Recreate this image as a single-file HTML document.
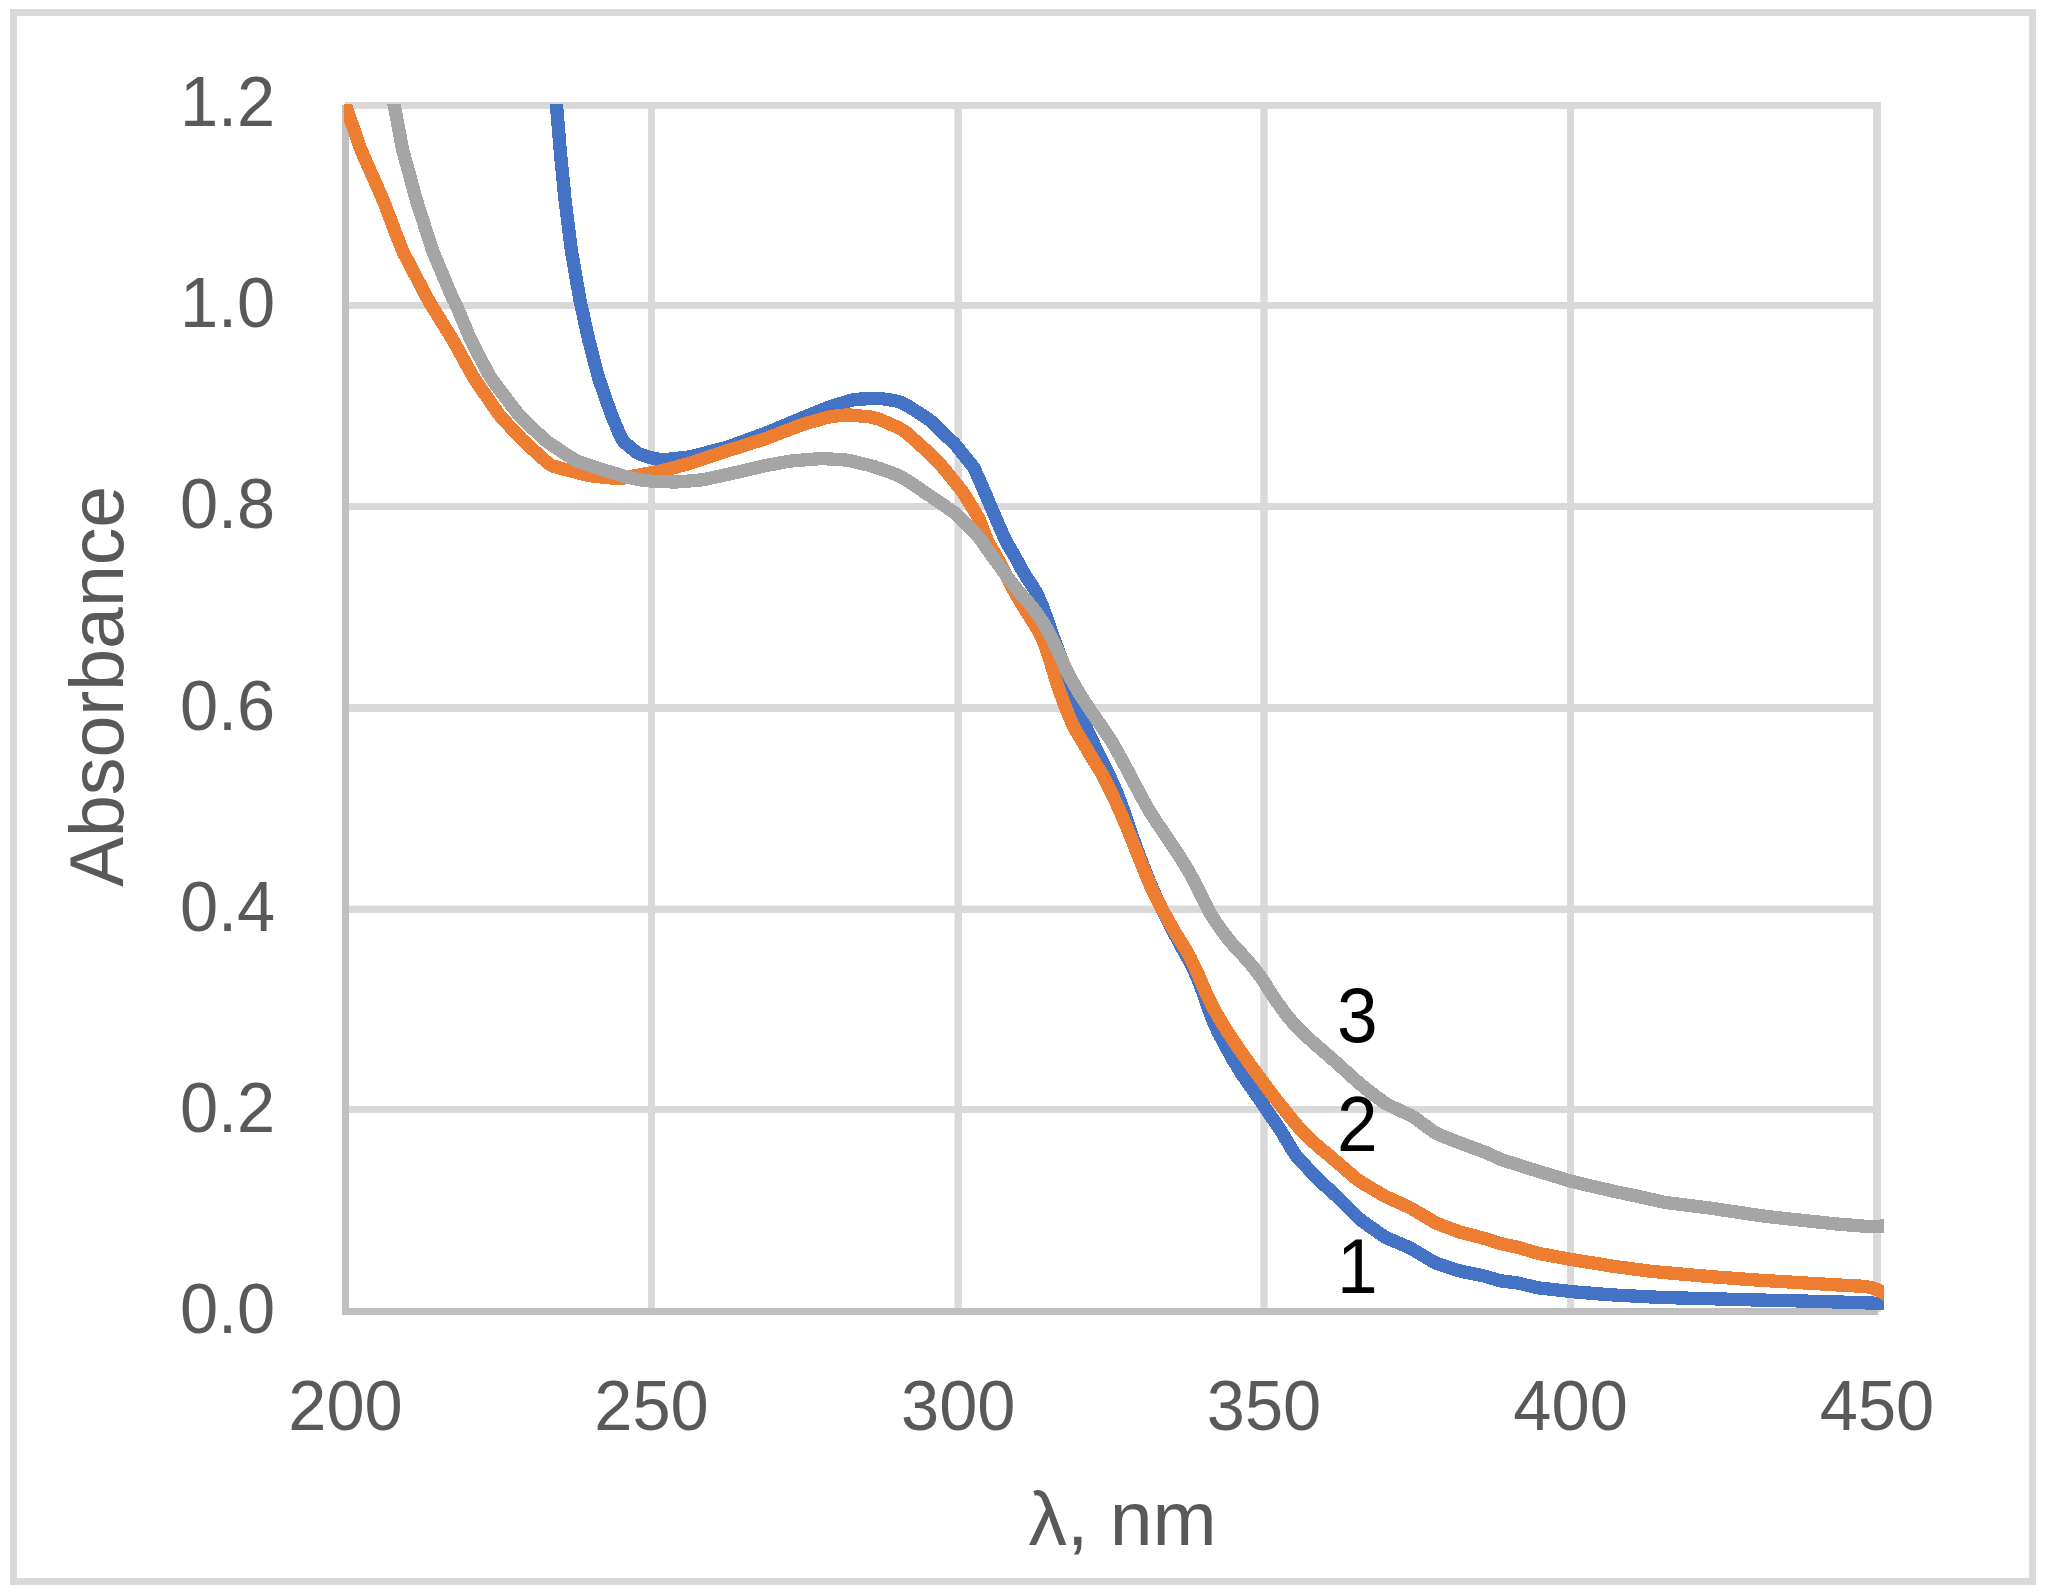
<!DOCTYPE html>
<html><head><meta charset="utf-8"><title>Absorbance spectra</title>
<style>
html,body{margin:0;padding:0;background:#fff;}
body{width:2046px;height:1594px;}
svg{display:block;}
text{font-family:"Liberation Sans",sans-serif;}
.ax{font-size:70.6px;fill:#595959;}
.tt{font-size:75.5px;fill:#595959;}
.dl{font-size:77.0px;fill:#000;}
</style></head><body>
<svg width="2046" height="1594" viewBox="0 0 2046 1594">
<rect x="0" y="0" width="2046" height="1594" fill="#fff"/>
<rect x="13.5" y="12.5" width="2019" height="1569" fill="none" stroke="#d9d9d9" stroke-width="7"/>
<g fill="#d9d9d9">
<rect x="345" y="102" width="1536" height="7"/>
<rect x="345" y="302" width="1536" height="7"/>
<rect x="345" y="503" width="1536" height="7"/>
<rect x="345" y="704" width="1536" height="8"/>
<rect x="345" y="905.5" width="1536" height="7.5"/>
<rect x="345" y="1106" width="1536" height="7"/>
<rect x="648" y="102" width="7.0" height="1210"/>
<rect x="954.5" y="102" width="7.5" height="1210"/>
<rect x="1260.3" y="102" width="7.4" height="1210"/>
<rect x="1567.1" y="102" width="6.9" height="1210"/>
<rect x="1873" y="102" width="8.0" height="1210"/>
</g>
<g fill="#bfbfbf"><rect x="342" y="105" width="7" height="1210"/><rect x="342" y="1308" width="1536" height="7"/></g>
<clipPath id="cp"><rect x="344" y="104" width="1540" height="1214"/></clipPath>
<g clip-path="url(#cp)" fill="none" stroke-width="13.3" stroke-linejoin="round" stroke-linecap="butt" shape-rendering="crispEdges">
<path d="M555.0,86.0 L555.2,89.0 L555.5,92.0 L555.7,95.0 L555.9,98.0 L556.2,101.0 L556.4,103.9 L556.6,106.9 L556.9,109.9 L557.1,112.9 L557.4,115.9 L557.6,118.9 L557.9,121.9 L558.1,124.9 L558.4,127.9 L558.6,130.9 L558.9,133.9 L559.1,136.8 L559.3,139.8 L559.6,142.8 L559.8,145.8 L560.1,148.8 L560.4,151.8 L560.6,154.8 L560.9,157.8 L561.2,160.8 L561.5,163.7 L561.8,166.7 L562.1,169.7 L562.4,172.7 L562.7,175.7 L563.0,178.7 L563.3,181.7 L563.6,184.6 L563.9,187.6 L564.1,190.6 L564.4,193.6 L564.7,196.6 L565.0,199.6 L565.4,202.6 L565.7,205.5 L566.1,208.5 L566.5,211.5 L566.9,214.5 L567.2,217.4 L567.6,220.4 L568.0,223.4 L568.4,226.4 L568.7,229.3 L569.1,232.3 L569.5,235.3 L569.9,238.3 L570.2,241.3 L570.6,244.2 L571.0,247.2 L571.4,250.2 L571.8,253.1 L572.4,256.1 L572.9,259.1 L573.4,262.0 L573.9,265.0 L574.4,267.9 L574.9,270.9 L575.4,273.8 L575.9,276.8 L576.4,279.8 L576.9,282.7 L577.5,285.7 L578.0,288.6 L578.5,291.6 L579.0,294.5 L579.5,297.5 L580.0,300.4 L580.7,303.4 L581.3,306.3 L582.0,309.2 L582.6,312.2 L583.3,315.1 L583.9,318.0 L584.5,321.0 L585.2,323.9 L585.8,326.8 L586.5,329.8 L587.1,332.7 L587.8,335.6 L588.4,338.5 L589.1,341.5 L589.9,344.4 L590.6,347.3 L591.4,350.2 L592.1,353.1 L592.9,356.0 L593.6,358.9 L594.4,361.8 L595.1,364.7 L595.9,367.6 L596.6,370.5 L597.4,373.4 L598.2,376.3 L599.0,379.2 L600.0,382.0 L601.0,384.9 L602.0,387.7 L603.0,390.5 L603.9,393.4 L604.9,396.2 L605.9,399.0 L606.9,401.8 L607.9,404.7 L608.9,407.5 L609.9,410.3 L610.9,413.2 L612.0,416.0 L613.1,418.8 L614.2,421.5 L615.4,424.3 L616.6,427.1 L617.7,429.8 L618.9,432.6 L620.1,435.3 L621.3,438.1 L622.9,440.5 L624.9,442.7 L627.1,444.6 L629.4,446.5 L631.8,448.5 L634.1,450.4 L636.4,452.2 L638.9,453.8 L641.6,454.9 L644.5,455.7 L647.4,456.6 L650.3,457.4 L653.2,458.2 L656.1,458.8 L659.1,459.2 L662.0,459.4 L665.0,459.5 L668.0,459.3 L671.0,459.0 L674.0,458.7 L677.0,458.4 L679.9,458.0 L682.9,457.7 L685.9,457.4 L688.9,457.0 L691.8,456.4 L694.7,455.7 L697.6,454.9 L700.5,454.2 L703.4,453.4 L706.3,452.7 L709.2,451.9 L712.1,451.1 L715.0,450.4 L717.9,449.6 L720.8,448.8 L723.7,448.1 L726.6,447.3 L729.5,446.4 L732.3,445.4 L735.1,444.3 L738.0,443.3 L740.8,442.3 L743.6,441.3 L746.4,440.2 L749.2,439.2 L752.1,438.2 L754.9,437.2 L757.7,436.1 L760.5,435.1 L763.3,434.1 L766.1,433.0 L768.9,431.9 L771.7,430.7 L774.5,429.6 L777.2,428.4 L780.0,427.2 L782.8,426.1 L785.5,424.9 L788.3,423.8 L791.1,422.6 L793.8,421.5 L796.6,420.3 L799.4,419.2 L802.1,418.0 L804.9,416.9 L807.7,415.7 L810.5,414.6 L813.3,413.5 L816.0,412.3 L818.8,411.2 L821.6,410.1 L824.4,409.0 L827.2,407.9 L830.0,406.9 L832.9,405.9 L835.7,405.0 L838.6,404.1 L841.4,403.2 L844.3,402.3 L847.2,401.4 L850.0,400.6 L852.9,399.8 L855.9,399.4 L858.9,399.2 L861.9,399.0 L864.9,398.9 L867.8,398.7 L870.8,398.6 L873.8,398.5 L876.8,398.5 L879.8,398.5 L882.8,398.8 L885.8,399.3 L888.7,399.7 L891.7,400.2 L894.7,400.7 L897.5,401.4 L900.4,402.4 L903.2,403.5 L905.9,404.8 L908.4,406.3 L911.0,407.9 L913.5,409.5 L916.0,411.2 L918.5,412.8 L921.0,414.4 L923.5,416.1 L926.1,417.7 L928.5,419.4 L930.9,421.2 L933.1,423.2 L935.3,425.3 L937.4,427.4 L939.6,429.5 L941.8,431.6 L943.9,433.6 L946.1,435.7 L948.2,437.8 L950.4,439.9 L952.6,442.0 L954.7,444.1 L956.7,446.3 L958.6,448.6 L960.5,451.0 L962.4,453.3 L964.2,455.6 L966.1,458.0 L968.0,460.3 L969.9,462.6 L971.8,465.0 L973.5,467.4 L975.0,470.0 L976.2,472.7 L977.4,475.5 L978.6,478.2 L979.8,481.0 L981.0,483.7 L982.2,486.5 L983.4,489.2 L984.6,492.0 L985.8,494.7 L987.0,497.5 L988.1,500.2 L989.3,503.0 L990.5,505.8 L991.7,508.5 L992.8,511.3 L994.0,514.1 L995.2,516.8 L996.4,519.6 L997.6,522.3 L998.8,525.1 L1000.0,527.8 L1001.2,530.6 L1002.4,533.3 L1003.6,536.0 L1004.9,538.8 L1006.2,541.5 L1007.6,544.1 L1009.1,546.7 L1010.6,549.3 L1012.2,551.8 L1013.7,554.4 L1015.2,557.0 L1016.6,559.6 L1018.0,562.3 L1019.4,564.9 L1020.8,567.5 L1022.3,570.1 L1023.8,572.7 L1025.3,575.2 L1026.9,577.7 L1028.5,580.1 L1030.1,582.6 L1031.7,585.0 L1033.3,587.5 L1034.8,590.0 L1036.2,592.6 L1037.5,595.2 L1038.8,597.9 L1040.1,600.6 L1041.2,603.3 L1042.4,606.1 L1043.5,608.9 L1044.5,611.7 L1045.5,614.5 L1046.5,617.3 L1047.5,620.1 L1048.5,623.0 L1049.5,625.8 L1050.4,628.7 L1051.4,631.5 L1052.4,634.3 L1053.4,637.2 L1054.4,640.0 L1055.5,642.8 L1056.5,645.6 L1057.6,648.4 L1058.6,651.2 L1059.7,654.0 L1060.7,656.8 L1061.8,659.6 L1062.8,662.5 L1063.9,665.3 L1064.9,668.1 L1065.9,670.9 L1066.9,673.7 L1068.0,676.6 L1069.0,679.4 L1070.0,682.2 L1071.0,685.0 L1072.0,687.8 L1073.0,690.7 L1074.0,693.5 L1075.1,696.3 L1076.1,699.1 L1077.1,702.0 L1078.1,704.8 L1079.0,707.6 L1080.0,710.5 L1081.0,713.3 L1082.0,716.1 L1083.0,719.0 L1084.0,721.8 L1085.0,724.6 L1086.1,727.3 L1087.2,730.0 L1088.4,732.7 L1089.6,735.4 L1090.9,738.1 L1092.2,740.7 L1093.5,743.3 L1094.8,746.0 L1096.1,748.6 L1097.4,751.3 L1098.7,754.0 L1100.0,756.7 L1101.3,759.3 L1102.7,762.0 L1104.0,764.7 L1105.3,767.3 L1106.7,770.0 L1108.0,772.7 L1109.2,775.4 L1110.5,778.1 L1111.7,780.8 L1113.0,783.6 L1114.2,786.3 L1115.3,789.1 L1116.5,791.8 L1117.6,794.6 L1118.7,797.4 L1119.8,800.2 L1120.8,803.0 L1121.9,805.8 L1122.9,808.6 L1123.9,811.5 L1124.9,814.3 L1125.9,817.1 L1126.9,820.0 L1127.9,822.8 L1128.8,825.6 L1129.8,828.5 L1130.7,831.3 L1131.7,834.2 L1132.6,837.0 L1133.6,839.9 L1134.6,842.7 L1135.6,845.5 L1136.6,848.3 L1137.7,851.1 L1138.7,854.0 L1139.8,856.8 L1140.8,859.6 L1141.9,862.4 L1143.0,865.2 L1144.1,868.0 L1145.2,870.8 L1146.3,873.5 L1147.4,876.3 L1148.5,879.1 L1149.7,881.9 L1150.8,884.7 L1152.0,887.4 L1153.1,890.2 L1154.3,892.9 L1155.5,895.7 L1156.8,898.4 L1158.0,901.2 L1159.3,903.9 L1160.6,906.6 L1161.9,909.3 L1163.2,911.9 L1164.6,914.6 L1165.9,917.2 L1167.3,919.9 L1168.7,922.5 L1170.1,925.2 L1171.5,927.8 L1172.8,930.5 L1174.2,933.2 L1175.6,935.8 L1177.0,938.5 L1178.4,941.1 L1179.9,943.7 L1181.3,946.4 L1182.7,949.0 L1184.2,951.6 L1185.6,954.2 L1187.1,956.9 L1188.5,959.5 L1189.9,962.2 L1191.2,964.8 L1192.6,967.5 L1193.9,970.2 L1195.1,972.9 L1196.3,975.7 L1197.5,978.4 L1198.6,981.2 L1199.7,984.0 L1200.8,986.8 L1201.8,989.6 L1202.9,992.4 L1203.9,995.2 L1204.9,998.1 L1205.8,1000.9 L1206.8,1003.7 L1207.8,1006.6 L1208.8,1009.4 L1209.8,1012.2 L1210.8,1015.0 L1211.9,1017.8 L1213.0,1020.6 L1214.2,1023.3 L1215.4,1026.1 L1216.6,1028.8 L1217.9,1031.5 L1219.3,1034.2 L1220.6,1036.8 L1222.0,1039.5 L1223.4,1042.2 L1224.8,1044.8 L1226.2,1047.5 L1227.7,1050.1 L1229.1,1052.7 L1230.6,1055.3 L1232.0,1058.0 L1233.5,1060.6 L1235.0,1063.1 L1236.6,1065.7 L1238.1,1068.3 L1239.7,1070.8 L1241.3,1073.3 L1243.0,1075.8 L1244.7,1078.3 L1246.4,1080.8 L1248.1,1083.2 L1249.8,1085.7 L1251.6,1088.1 L1253.3,1090.6 L1255.0,1093.0 L1256.8,1095.5 L1258.5,1097.9 L1260.2,1100.4 L1261.9,1102.9 L1263.6,1105.4 L1265.3,1107.8 L1267.0,1110.3 L1268.7,1112.8 L1270.3,1115.3 L1272.0,1117.8 L1273.7,1120.2 L1275.4,1122.7 L1277.1,1125.2 L1278.8,1127.7 L1280.4,1130.2 L1282.0,1132.7 L1283.6,1135.3 L1285.1,1137.9 L1286.6,1140.5 L1288.2,1143.0 L1289.7,1145.6 L1291.2,1148.2 L1292.8,1150.8 L1294.4,1153.3 L1296.1,1155.7 L1298.1,1158.0 L1300.1,1160.2 L1302.2,1162.4 L1304.2,1164.6 L1306.3,1166.7 L1308.3,1168.9 L1310.4,1171.1 L1312.4,1173.3 L1314.4,1175.5 L1316.5,1177.7 L1318.6,1179.9 L1320.7,1182.0 L1323.0,1183.9 L1325.2,1185.9 L1327.5,1187.9 L1329.7,1189.9 L1332.0,1191.9 L1334.2,1193.9 L1336.4,1195.9 L1338.5,1198.0 L1340.7,1200.2 L1342.8,1202.3 L1344.9,1204.4 L1347.0,1206.5 L1349.1,1208.6 L1351.3,1210.8 L1353.4,1212.9 L1355.5,1215.0 L1357.6,1217.1 L1359.8,1219.2 L1362.1,1221.1 L1364.6,1222.8 L1367.0,1224.5 L1369.5,1226.2 L1372.0,1228.0 L1374.4,1229.7 L1376.9,1231.4 L1379.3,1233.1 L1381.8,1234.8 L1384.3,1236.5 L1386.9,1237.9 L1389.6,1239.2 L1392.4,1240.3 L1395.2,1241.5 L1397.9,1242.7 L1400.7,1243.9 L1403.4,1245.0 L1406.2,1246.2 L1408.9,1247.4 L1411.6,1248.8 L1414.2,1250.3 L1416.8,1251.8 L1419.4,1253.4 L1421.9,1254.9 L1424.5,1256.5 L1427.1,1258.0 L1429.6,1259.6 L1432.2,1261.1 L1434.8,1262.5 L1437.6,1263.7 L1440.4,1264.7 L1443.2,1265.6 L1446.1,1266.6 L1449.0,1267.5 L1451.8,1268.4 L1454.7,1269.3 L1457.5,1270.2 L1460.4,1271.1 L1463.3,1271.8 L1466.3,1272.4 L1469.2,1273.0 L1472.1,1273.6 L1475.1,1274.2 L1478.0,1274.7 L1481.0,1275.3 L1483.9,1276.0 L1486.8,1276.7 L1489.7,1277.6 L1492.5,1278.5 L1495.4,1279.4 L1498.3,1280.3 L1501.2,1280.9 L1504.1,1281.3 L1507.1,1281.7 L1510.1,1282.0 L1513.1,1282.3 L1516.0,1282.7 L1519.0,1283.3 L1521.9,1284.0 L1524.8,1284.7 L1527.7,1285.4 L1530.6,1286.1 L1533.6,1286.8 L1536.5,1287.5 L1539.4,1288.0 L1542.4,1288.3 L1545.4,1288.7 L1548.4,1289.0 L1551.4,1289.4 L1554.3,1289.7 L1557.3,1290.0 L1560.3,1290.4 L1563.3,1290.7 L1566.3,1291.0 L1569.3,1291.4 L1572.2,1291.6 L1575.2,1291.9 L1578.2,1292.2 L1581.2,1292.4 L1584.2,1292.6 L1587.2,1292.9 L1590.2,1293.1 L1593.2,1293.4 L1596.2,1293.6 L1599.1,1293.9 L1602.1,1294.1 L1605.1,1294.4 L1608.1,1294.6 L1611.1,1294.8 L1614.1,1295.0 L1617.1,1295.2 L1620.1,1295.4 L1623.1,1295.5 L1626.1,1295.7 L1629.1,1295.8 L1632.1,1296.0 L1635.1,1296.1 L1638.1,1296.3 L1641.1,1296.4 L1644.1,1296.6 L1647.1,1296.7 L1650.1,1296.9 L1653.1,1297.0 L1656.1,1297.2 L1659.1,1297.3 L1662.1,1297.4 L1665.1,1297.5 L1668.1,1297.6 L1671.1,1297.7 L1674.0,1297.8 L1677.0,1297.9 L1680.0,1297.9 L1683.0,1298.0 L1686.0,1298.1 L1689.0,1298.2 L1692.0,1298.3 L1695.0,1298.3 L1698.0,1298.4 L1701.0,1298.5 L1704.0,1298.6 L1707.0,1298.7 L1710.0,1298.7 L1713.0,1298.8 L1716.0,1298.9 L1719.0,1299.0 L1722.0,1299.1 L1725.0,1299.1 L1728.0,1299.2 L1731.0,1299.3 L1734.0,1299.4 L1737.0,1299.5 L1740.0,1299.6 L1743.0,1299.6 L1746.0,1299.7 L1749.0,1299.8 L1752.0,1299.9 L1755.0,1300.0 L1758.0,1300.0 L1761.0,1300.1 L1764.0,1300.1 L1767.0,1300.2 L1770.0,1300.2 L1773.0,1300.3 L1776.0,1300.3 L1779.0,1300.4 L1782.0,1300.5 L1785.0,1300.6 L1788.0,1300.6 L1791.0,1300.7 L1794.0,1300.8 L1797.0,1300.9 L1800.0,1301.0 L1803.0,1301.0 L1806.0,1301.1 L1809.0,1301.2 L1812.0,1301.3 L1815.0,1301.4 L1818.0,1301.5 L1821.0,1301.5 L1824.0,1301.6 L1827.0,1301.7 L1830.0,1301.8 L1833.0,1301.9 L1836.0,1301.9 L1839.0,1302.0 L1842.0,1302.1 L1845.0,1302.2 L1848.0,1302.3 L1851.0,1302.4 L1854.0,1302.5 L1857.0,1302.6 L1860.0,1302.7 L1863.0,1302.8 L1866.0,1302.9 L1869.0,1303.0 L1872.0,1303.1 L1875.0,1303.2 L1878.0,1303.3 L1881.0,1303.5 L1884.0,1303.6 L1887.0,1303.7 L1890.0,1303.7 L1892.0,1303.8" stroke="#4472c4"/>
<path d="M337.0,86.0 L338.2,88.7 L339.5,91.5 L340.7,94.2 L341.9,97.0 L343.1,99.7 L344.3,102.4 L345.5,105.2 L346.5,108.0 L347.5,110.9 L348.5,113.7 L349.5,116.5 L350.4,119.4 L351.4,122.2 L352.4,125.0 L353.4,127.9 L354.4,130.7 L355.3,133.6 L356.3,136.4 L357.3,139.2 L358.3,142.1 L359.2,144.9 L360.2,147.7 L361.3,150.5 L362.5,153.3 L363.7,156.1 L364.9,158.8 L366.1,161.5 L367.3,164.3 L368.5,167.0 L369.8,169.8 L371.0,172.5 L372.2,175.3 L373.4,178.0 L374.6,180.8 L375.8,183.5 L377.0,186.2 L378.3,189.0 L379.5,191.7 L380.7,194.5 L381.9,197.2 L383.1,200.0 L384.2,202.8 L385.3,205.6 L386.3,208.4 L387.4,211.2 L388.5,214.0 L389.5,216.8 L390.6,219.6 L391.7,222.4 L392.7,225.2 L393.8,228.0 L394.9,230.8 L395.9,233.6 L397.0,236.4 L398.1,239.2 L399.1,242.0 L400.2,244.8 L401.3,247.6 L402.4,250.4 L403.7,253.1 L405.1,255.8 L406.5,258.4 L407.9,261.1 L409.3,263.7 L410.7,266.4 L412.1,269.1 L413.5,271.7 L414.9,274.4 L416.2,277.0 L417.6,279.7 L419.0,282.4 L420.4,285.0 L421.8,287.7 L423.2,290.3 L424.6,293.0 L426.0,295.7 L427.4,298.3 L428.8,300.9 L430.4,303.5 L431.9,306.1 L433.5,308.6 L435.1,311.2 L436.6,313.7 L438.2,316.3 L439.8,318.9 L441.4,321.4 L443.0,324.0 L444.5,326.5 L446.1,329.1 L447.7,331.6 L449.3,334.2 L450.8,336.7 L452.4,339.3 L453.9,341.9 L455.4,344.5 L456.8,347.1 L458.3,349.8 L459.7,352.4 L461.2,355.0 L462.6,357.7 L464.1,360.3 L465.5,362.9 L466.9,365.5 L468.4,368.2 L469.8,370.8 L471.3,373.4 L472.8,376.0 L474.3,378.6 L476.0,381.1 L477.7,383.6 L479.4,386.0 L481.1,388.5 L482.8,391.0 L484.5,393.5 L486.2,395.9 L487.9,398.4 L489.6,400.9 L491.3,403.3 L493.0,405.8 L494.7,408.3 L496.4,410.7 L498.1,413.2 L500.0,415.6 L501.9,417.9 L503.9,420.1 L506.0,422.3 L508.0,424.5 L510.1,426.7 L512.1,428.9 L514.1,431.1 L516.2,433.3 L518.2,435.5 L520.3,437.7 L522.4,439.8 L524.5,441.9 L526.7,443.9 L528.9,446.0 L531.2,448.0 L533.4,450.0 L535.6,452.0 L537.9,454.0 L540.1,456.0 L542.3,458.0 L544.5,460.0 L546.8,462.0 L549.1,463.9 L551.5,465.5 L554.3,466.5 L557.2,467.3 L560.1,468.1 L563.0,468.8 L565.9,469.6 L568.8,470.4 L571.7,471.2 L574.6,471.9 L577.5,472.7 L580.4,473.5 L583.3,474.3 L586.2,475.0 L589.1,475.6 L592.1,476.0 L595.1,476.3 L598.1,476.6 L601.1,476.9 L604.0,477.2 L607.0,477.5 L610.0,477.8 L613.0,478.1 L616.0,478.4 L619.0,478.5 L621.9,478.3 L624.9,477.8 L627.8,477.2 L630.8,476.6 L633.7,476.0 L636.7,475.5 L639.6,474.9 L642.6,474.4 L645.5,473.8 L648.5,473.3 L651.4,472.8 L654.4,472.3 L657.3,471.7 L660.3,471.1 L663.2,470.4 L666.1,469.7 L669.0,468.9 L671.9,468.2 L674.8,467.4 L677.7,466.6 L680.6,465.8 L683.5,465.0 L686.4,464.2 L689.3,463.4 L692.1,462.5 L695.0,461.6 L697.8,460.6 L700.7,459.7 L703.5,458.7 L706.4,457.8 L709.2,456.8 L712.1,455.9 L714.9,454.9 L717.7,454.0 L720.6,453.0 L723.4,452.1 L726.3,451.1 L729.1,450.2 L732.0,449.3 L734.9,448.4 L737.7,447.5 L740.6,446.6 L743.4,445.7 L746.3,444.8 L749.2,443.9 L752.0,443.0 L754.9,442.0 L757.8,441.1 L760.6,440.2 L763.5,439.3 L766.3,438.3 L769.1,437.3 L771.9,436.2 L774.7,435.2 L777.5,434.1 L780.3,433.0 L783.1,431.9 L785.9,430.9 L788.7,429.8 L791.6,428.7 L794.4,427.6 L797.2,426.6 L800.0,425.5 L802.8,424.5 L805.6,423.6 L808.5,422.7 L811.4,421.9 L814.3,421.1 L817.2,420.3 L820.1,419.4 L822.9,418.6 L825.8,417.8 L828.8,417.1 L831.7,416.7 L834.7,416.3 L837.7,415.9 L840.6,415.5 L843.6,415.2 L846.6,414.9 L849.6,415.0 L852.6,415.2 L855.6,415.5 L858.5,415.8 L861.5,416.1 L864.5,416.4 L867.5,416.7 L870.5,417.0 L873.4,417.6 L876.3,418.4 L879.1,419.3 L881.9,420.4 L884.7,421.6 L887.5,422.8 L890.2,424.0 L892.9,425.2 L895.7,426.4 L898.3,427.8 L901.0,429.2 L903.6,430.7 L906.0,432.4 L908.3,434.3 L910.6,436.3 L912.8,438.3 L915.0,440.3 L917.3,442.3 L919.5,444.3 L921.7,446.4 L923.9,448.4 L926.2,450.4 L928.4,452.4 L930.6,454.5 L932.7,456.6 L934.8,458.8 L936.8,460.9 L938.9,463.1 L941.0,465.3 L943.0,467.5 L944.9,469.8 L946.8,472.1 L948.7,474.4 L950.6,476.8 L952.4,479.1 L954.3,481.5 L956.2,483.8 L958.0,486.2 L959.9,488.5 L961.8,490.9 L963.5,493.3 L965.2,495.8 L966.7,498.4 L968.3,500.9 L969.9,503.5 L971.4,506.1 L973.0,508.6 L974.5,511.2 L976.1,513.8 L977.6,516.3 L979.0,519.0 L980.1,521.8 L981.2,524.6 L982.2,527.4 L983.3,530.2 L984.4,533.0 L985.5,535.8 L986.6,538.6 L987.8,541.3 L989.1,544.0 L990.6,546.5 L992.2,549.1 L993.7,551.7 L995.2,554.3 L996.7,556.9 L998.1,559.5 L999.5,562.2 L1000.8,564.8 L1002.2,567.5 L1003.5,570.2 L1004.8,572.9 L1006.1,575.6 L1007.4,578.3 L1008.8,581.0 L1010.2,583.6 L1011.6,586.3 L1013.0,588.9 L1014.5,591.5 L1015.9,594.1 L1017.4,596.7 L1019.0,599.3 L1020.5,601.9 L1022.0,604.5 L1023.6,607.0 L1025.2,609.6 L1026.8,612.1 L1028.4,614.7 L1030.0,617.2 L1031.6,619.7 L1033.2,622.2 L1034.8,624.8 L1036.3,627.3 L1037.8,629.9 L1039.2,632.5 L1040.6,635.2 L1041.9,637.9 L1043.0,640.6 L1044.2,643.4 L1045.2,646.2 L1046.2,649.0 L1047.2,651.8 L1048.1,654.7 L1049.0,657.5 L1049.9,660.4 L1050.8,663.2 L1051.7,666.1 L1052.6,669.0 L1053.4,671.8 L1054.3,674.7 L1055.2,677.6 L1056.1,680.4 L1057.0,683.3 L1058.0,686.1 L1058.9,689.0 L1059.9,691.8 L1060.9,694.7 L1061.9,697.5 L1062.9,700.3 L1064.0,703.1 L1065.0,705.9 L1066.1,708.7 L1067.2,711.5 L1068.3,714.3 L1069.4,717.1 L1070.6,719.8 L1071.8,722.5 L1073.0,725.2 L1074.4,727.8 L1075.7,730.4 L1077.2,733.0 L1078.6,735.5 L1080.2,737.9 L1081.7,740.4 L1083.2,742.9 L1084.7,745.4 L1086.2,747.9 L1087.7,750.4 L1089.1,753.0 L1090.6,755.5 L1092.1,758.0 L1093.7,760.5 L1095.2,763.0 L1096.8,765.5 L1098.4,768.0 L1099.9,770.5 L1101.4,773.1 L1102.8,775.7 L1104.2,778.3 L1105.6,780.9 L1106.9,783.6 L1108.3,786.3 L1109.6,789.0 L1110.9,791.7 L1112.2,794.4 L1113.5,797.1 L1114.7,799.8 L1116.0,802.5 L1117.3,805.3 L1118.5,808.0 L1119.7,810.7 L1120.9,813.5 L1122.1,816.2 L1123.3,819.0 L1124.5,821.8 L1125.6,824.5 L1126.8,827.3 L1127.9,830.1 L1129.1,832.9 L1130.2,835.6 L1131.3,838.4 L1132.4,841.2 L1133.5,844.0 L1134.7,846.8 L1135.8,849.6 L1136.9,852.3 L1138.0,855.1 L1139.1,857.9 L1140.3,860.7 L1141.4,863.5 L1142.5,866.3 L1143.6,869.1 L1144.7,871.8 L1145.9,874.6 L1147.0,877.4 L1148.1,880.2 L1149.3,882.9 L1150.5,885.7 L1151.7,888.4 L1153.0,891.1 L1154.2,893.9 L1155.6,896.6 L1156.9,899.2 L1158.3,901.9 L1159.6,904.6 L1161.1,907.2 L1162.5,909.8 L1163.9,912.5 L1165.4,915.1 L1166.8,917.7 L1168.3,920.3 L1169.7,923.0 L1171.2,925.6 L1172.6,928.2 L1174.1,930.8 L1175.6,933.3 L1177.2,935.9 L1178.7,938.4 L1180.3,940.9 L1181.9,943.4 L1183.4,945.9 L1185.0,948.5 L1186.5,951.0 L1188.0,953.6 L1189.4,956.2 L1190.8,958.9 L1192.1,961.6 L1193.4,964.2 L1194.7,966.9 L1196.0,969.7 L1197.2,972.4 L1198.4,975.1 L1199.6,977.9 L1200.8,980.7 L1202.0,983.4 L1203.1,986.2 L1204.3,988.9 L1205.5,991.7 L1206.8,994.4 L1208.1,997.1 L1209.4,999.8 L1210.7,1002.5 L1212.1,1005.2 L1213.4,1007.8 L1214.9,1010.5 L1216.3,1013.1 L1217.8,1015.7 L1219.3,1018.3 L1220.8,1020.9 L1222.3,1023.5 L1223.9,1026.0 L1225.5,1028.5 L1227.1,1031.1 L1228.7,1033.6 L1230.4,1036.1 L1232.0,1038.6 L1233.7,1041.1 L1235.4,1043.6 L1237.1,1046.1 L1238.8,1048.5 L1240.5,1051.0 L1242.2,1053.4 L1244.0,1055.9 L1245.7,1058.3 L1247.5,1060.8 L1249.2,1063.2 L1251.0,1065.6 L1252.7,1068.1 L1254.5,1070.5 L1256.3,1072.9 L1258.0,1075.3 L1259.8,1077.8 L1261.6,1080.2 L1263.4,1082.6 L1265.1,1085.0 L1266.9,1087.4 L1268.7,1089.8 L1270.5,1092.2 L1272.3,1094.6 L1274.1,1097.0 L1276.0,1099.4 L1277.8,1101.7 L1279.7,1104.1 L1281.6,1106.4 L1283.5,1108.8 L1285.4,1111.1 L1287.2,1113.4 L1289.1,1115.8 L1291.0,1118.1 L1292.9,1120.4 L1294.8,1122.8 L1296.7,1125.1 L1298.6,1127.4 L1300.5,1129.7 L1302.6,1131.9 L1304.8,1134.0 L1306.9,1136.0 L1309.1,1138.1 L1311.3,1140.2 L1313.5,1142.2 L1315.7,1144.2 L1317.9,1146.2 L1320.2,1148.1 L1322.5,1150.1 L1324.9,1152.0 L1327.2,1153.9 L1329.5,1155.8 L1331.8,1157.8 L1334.1,1159.7 L1336.4,1161.6 L1338.7,1163.5 L1340.9,1165.5 L1343.2,1167.5 L1345.5,1169.4 L1347.7,1171.4 L1350.0,1173.4 L1352.3,1175.3 L1354.5,1177.3 L1356.9,1179.2 L1359.3,1181.0 L1361.8,1182.5 L1364.4,1184.1 L1367.0,1185.6 L1369.6,1187.1 L1372.1,1188.7 L1374.7,1190.2 L1377.3,1191.7 L1379.9,1193.3 L1382.5,1194.8 L1385.1,1196.3 L1387.8,1197.6 L1390.5,1198.8 L1393.2,1200.1 L1396.0,1201.3 L1398.7,1202.5 L1401.4,1203.8 L1404.2,1205.0 L1406.9,1206.2 L1409.6,1207.5 L1412.3,1208.9 L1414.8,1210.5 L1417.4,1212.0 L1420.0,1213.5 L1422.6,1215.1 L1425.1,1216.6 L1427.7,1218.2 L1430.3,1219.7 L1432.9,1221.3 L1435.5,1222.7 L1438.2,1223.9 L1441.0,1225.0 L1443.8,1226.0 L1446.6,1227.1 L1449.4,1228.1 L1452.3,1229.2 L1455.1,1230.3 L1457.9,1231.3 L1460.7,1232.3 L1463.6,1233.1 L1466.5,1233.8 L1469.4,1234.6 L1472.3,1235.3 L1475.2,1236.0 L1478.1,1236.8 L1481.1,1237.5 L1484.0,1238.3 L1486.8,1239.1 L1489.7,1240.0 L1492.5,1241.0 L1495.4,1242.0 L1498.2,1242.9 L1501.1,1243.7 L1504.0,1244.4 L1507.0,1245.0 L1509.9,1245.6 L1512.8,1246.2 L1515.8,1246.8 L1518.7,1247.6 L1521.5,1248.4 L1524.4,1249.3 L1527.3,1250.1 L1530.2,1251.0 L1533.1,1251.9 L1535.9,1252.7 L1538.9,1253.4 L1541.8,1254.0 L1544.7,1254.5 L1547.7,1255.1 L1550.6,1255.6 L1553.6,1256.2 L1556.5,1256.7 L1559.5,1257.3 L1562.4,1257.8 L1565.4,1258.4 L1568.3,1258.9 L1571.3,1259.4 L1574.3,1259.9 L1577.2,1260.4 L1580.2,1260.9 L1583.1,1261.4 L1586.1,1261.9 L1589.1,1262.3 L1592.0,1262.8 L1595.0,1263.3 L1598.0,1263.8 L1600.9,1264.3 L1603.9,1264.7 L1606.8,1265.2 L1609.8,1265.7 L1612.8,1266.2 L1615.7,1266.6 L1618.7,1267.0 L1621.7,1267.4 L1624.7,1267.8 L1627.6,1268.2 L1630.6,1268.6 L1633.6,1269.0 L1636.6,1269.4 L1639.5,1269.8 L1642.5,1270.2 L1645.5,1270.6 L1648.5,1271.0 L1651.4,1271.3 L1654.4,1271.6 L1657.4,1271.9 L1660.4,1272.2 L1663.4,1272.4 L1666.4,1272.7 L1669.4,1273.0 L1672.4,1273.2 L1675.4,1273.5 L1678.3,1273.8 L1681.3,1274.0 L1684.3,1274.3 L1687.3,1274.5 L1690.3,1274.8 L1693.3,1275.1 L1696.3,1275.3 L1699.3,1275.6 L1702.3,1275.9 L1705.3,1276.1 L1708.2,1276.4 L1711.2,1276.7 L1714.2,1276.9 L1717.2,1277.1 L1720.2,1277.4 L1723.2,1277.6 L1726.2,1277.8 L1729.2,1278.0 L1732.2,1278.2 L1735.2,1278.5 L1738.2,1278.7 L1741.2,1278.9 L1744.2,1279.1 L1747.1,1279.3 L1750.1,1279.6 L1753.1,1279.8 L1756.1,1280.0 L1759.1,1280.2 L1762.1,1280.4 L1765.1,1280.6 L1768.1,1280.7 L1771.1,1280.9 L1774.1,1281.1 L1777.1,1281.3 L1780.1,1281.5 L1783.1,1281.7 L1786.1,1281.8 L1789.1,1282.0 L1792.1,1282.2 L1795.1,1282.4 L1798.1,1282.6 L1801.1,1282.7 L1804.1,1282.9 L1807.0,1283.1 L1810.0,1283.3 L1813.0,1283.5 L1816.0,1283.7 L1819.0,1283.8 L1822.0,1284.0 L1825.0,1284.2 L1828.0,1284.4 L1831.0,1284.6 L1834.0,1284.7 L1837.0,1284.9 L1840.0,1285.1 L1843.0,1285.2 L1846.0,1285.4 L1849.0,1285.6 L1852.0,1285.7 L1855.0,1285.9 L1858.0,1286.0 L1861.0,1286.2 L1864.0,1286.4 L1866.9,1286.8 L1869.9,1287.4 L1872.8,1288.1 L1875.6,1289.0 L1878.4,1290.2 L1881.0,1291.6 L1883.6,1293.1 L1886.1,1294.7 L1888.6,1296.3 L1891.2,1298.0 L1892.0,1298.5" stroke="#ed7d31"/>
<path d="M390.6,86.0 L391.2,88.9 L391.7,91.9 L392.3,94.8 L392.8,97.8 L393.4,100.7 L393.9,103.7 L394.5,106.6 L395.1,109.6 L395.6,112.5 L396.2,115.5 L396.7,118.4 L397.3,121.4 L397.8,124.3 L398.4,127.3 L398.9,130.2 L399.5,133.2 L400.1,136.1 L400.6,139.1 L401.2,142.0 L401.7,145.0 L402.3,147.9 L402.9,150.9 L403.7,153.8 L404.5,156.7 L405.3,159.6 L406.1,162.5 L406.9,165.3 L407.7,168.2 L408.5,171.1 L409.3,174.0 L410.0,176.9 L410.8,179.8 L411.6,182.7 L412.4,185.6 L413.2,188.5 L414.0,191.4 L414.8,194.3 L415.6,197.2 L416.4,200.1 L417.3,202.9 L418.2,205.8 L419.1,208.7 L420.0,211.5 L421.0,214.4 L421.9,217.2 L422.8,220.1 L423.7,223.0 L424.6,225.8 L425.5,228.7 L426.4,231.5 L427.3,234.4 L428.2,237.3 L429.2,240.1 L430.1,243.0 L431.0,245.8 L431.9,248.7 L432.9,251.5 L434.1,254.3 L435.2,257.0 L436.4,259.8 L437.6,262.6 L438.7,265.3 L439.9,268.1 L441.1,270.9 L442.2,273.6 L443.4,276.4 L444.6,279.2 L445.8,281.9 L446.9,284.7 L448.1,287.5 L449.3,290.2 L450.4,293.0 L451.6,295.7 L452.9,298.5 L454.3,301.1 L455.6,303.8 L456.9,306.5 L458.0,309.3 L459.2,312.0 L460.3,314.8 L461.5,317.6 L462.6,320.3 L463.8,323.1 L464.9,325.9 L466.1,328.7 L467.2,331.4 L468.4,334.2 L469.6,337.0 L470.8,339.7 L472.1,342.4 L473.5,345.1 L474.8,347.7 L476.2,350.4 L477.6,353.0 L479.0,355.7 L480.4,358.4 L481.8,361.0 L483.2,363.7 L484.6,366.3 L486.0,369.0 L487.4,371.7 L488.8,374.3 L490.3,376.9 L491.9,379.4 L493.7,381.8 L495.5,384.2 L497.3,386.6 L499.1,389.0 L500.9,391.4 L502.7,393.8 L504.5,396.2 L506.4,398.6 L508.2,401.0 L510.0,403.4 L511.8,405.8 L513.6,408.1 L515.4,410.5 L517.3,412.9 L519.2,415.2 L521.2,417.4 L523.4,419.5 L525.5,421.6 L527.7,423.6 L529.9,425.7 L532.1,427.8 L534.2,429.8 L536.4,431.9 L538.6,434.0 L540.7,436.1 L542.9,438.1 L545.2,440.1 L547.6,441.9 L550.0,443.6 L552.5,445.3 L555.0,446.9 L557.5,448.6 L560.0,450.2 L562.5,451.9 L565.0,453.5 L567.5,455.2 L570.1,456.9 L572.6,458.5 L575.1,460.0 L577.8,461.3 L580.6,462.3 L583.5,463.3 L586.3,464.2 L589.2,465.2 L592.0,466.2 L594.8,467.2 L597.7,468.1 L600.5,469.1 L603.4,470.0 L606.3,470.8 L609.2,471.7 L612.0,472.5 L614.9,473.4 L617.8,474.2 L620.7,475.1 L623.5,475.9 L626.4,476.7 L629.4,477.4 L632.3,478.1 L635.2,478.7 L638.1,479.3 L641.1,479.9 L644.1,480.3 L647.1,480.6 L650.0,480.9 L653.0,481.3 L656.0,481.5 L659.0,481.6 L662.0,481.7 L665.0,481.8 L668.0,481.8 L671.0,481.9 L674.0,481.9 L677.0,481.9 L680.0,481.8 L683.0,481.5 L686.0,481.3 L689.0,481.0 L692.0,480.7 L695.0,480.5 L697.9,480.2 L700.9,479.9 L703.9,479.5 L706.8,478.9 L709.8,478.3 L712.7,477.6 L715.6,477.0 L718.6,476.4 L721.5,475.8 L724.4,475.1 L727.4,474.5 L730.3,473.8 L733.2,473.1 L736.1,472.5 L739.1,471.8 L742.0,471.1 L744.9,470.4 L747.8,469.7 L750.8,469.0 L753.7,468.4 L756.6,467.7 L759.5,467.0 L762.4,466.3 L765.4,465.7 L768.3,465.1 L771.3,464.5 L774.2,464.0 L777.2,463.5 L780.1,462.9 L783.1,462.4 L786.0,461.8 L789.0,461.3 L792.0,460.9 L794.9,460.7 L797.9,460.4 L800.9,460.2 L803.9,459.9 L806.9,459.7 L809.9,459.5 L812.9,459.2 L815.9,459.0 L818.9,458.8 L821.9,458.6 L824.9,458.7 L827.9,458.9 L830.9,459.0 L833.9,459.2 L836.9,459.4 L839.9,459.6 L842.8,459.8 L845.8,460.0 L848.8,460.5 L851.7,461.1 L854.6,461.8 L857.6,462.5 L860.5,463.2 L863.4,463.9 L866.3,464.6 L869.2,465.3 L872.1,466.1 L875.0,467.0 L877.8,468.0 L880.7,468.9 L883.5,469.9 L886.3,471.0 L889.1,472.0 L892.0,473.0 L894.8,474.0 L897.5,475.2 L900.2,476.6 L902.9,478.0 L905.5,479.5 L908.0,481.1 L910.5,482.7 L913.0,484.4 L915.5,486.1 L918.0,487.8 L920.4,489.4 L922.9,491.1 L925.4,492.8 L927.9,494.5 L930.4,496.1 L932.9,497.8 L935.4,499.5 L937.8,501.2 L940.3,502.9 L942.8,504.6 L945.3,506.3 L947.7,508.0 L950.2,509.7 L952.7,511.4 L955.0,513.2 L957.3,515.2 L959.4,517.4 L961.5,519.5 L963.6,521.6 L965.7,523.8 L967.8,525.9 L969.9,528.1 L972.0,530.2 L974.1,532.3 L976.2,534.5 L978.2,536.7 L980.2,539.0 L981.9,541.4 L983.6,543.9 L985.3,546.3 L987.0,548.8 L988.7,551.3 L990.4,553.7 L992.1,556.2 L993.9,558.6 L995.7,561.0 L997.5,563.4 L999.3,565.8 L1001.1,568.2 L1002.8,570.6 L1004.6,573.1 L1006.3,575.5 L1008.1,577.9 L1009.8,580.3 L1011.6,582.7 L1013.5,585.1 L1015.3,587.4 L1017.2,589.7 L1019.2,592.0 L1021.1,594.3 L1023.1,596.6 L1025.1,598.8 L1027.0,601.1 L1029.0,603.3 L1030.9,605.6 L1032.8,608.0 L1034.6,610.3 L1036.4,612.7 L1038.1,615.2 L1039.8,617.6 L1041.4,620.1 L1043.1,622.6 L1044.6,625.2 L1046.2,627.8 L1047.7,630.4 L1049.1,633.0 L1050.5,635.6 L1051.9,638.3 L1053.2,641.0 L1054.5,643.7 L1055.7,646.4 L1057.0,649.1 L1058.2,651.9 L1059.4,654.6 L1060.7,657.3 L1061.9,660.1 L1063.2,662.8 L1064.4,665.5 L1065.7,668.2 L1067.0,670.9 L1068.4,673.6 L1069.7,676.3 L1071.1,678.9 L1072.5,681.6 L1074.0,684.2 L1075.5,686.8 L1077.0,689.4 L1078.5,692.0 L1080.1,694.5 L1081.7,697.0 L1083.3,699.6 L1084.9,702.1 L1086.6,704.6 L1088.3,707.1 L1089.9,709.6 L1091.6,712.1 L1093.3,714.5 L1095.0,717.0 L1096.7,719.5 L1098.4,721.9 L1100.2,724.4 L1101.9,726.8 L1103.6,729.3 L1105.3,731.8 L1107.0,734.3 L1108.6,736.8 L1110.2,739.3 L1111.8,741.8 L1113.3,744.4 L1114.8,747.0 L1116.3,749.6 L1117.7,752.2 L1119.2,754.9 L1120.6,757.5 L1122.0,760.1 L1123.5,762.8 L1124.9,765.4 L1126.3,768.1 L1127.7,770.7 L1129.1,773.4 L1130.5,776.0 L1131.9,778.7 L1133.3,781.4 L1134.7,784.0 L1136.1,786.7 L1137.5,789.3 L1138.9,792.0 L1140.3,794.6 L1141.7,797.2 L1143.2,799.9 L1144.6,802.5 L1146.1,805.1 L1147.6,807.7 L1149.1,810.3 L1150.7,812.9 L1152.2,815.4 L1153.8,817.9 L1155.5,820.5 L1157.1,823.0 L1158.8,825.4 L1160.5,827.9 L1162.2,830.4 L1163.9,832.9 L1165.6,835.3 L1167.3,837.8 L1169.0,840.3 L1170.7,842.8 L1172.3,845.3 L1174.0,847.8 L1175.6,850.3 L1177.3,852.8 L1178.9,855.3 L1180.5,857.8 L1182.1,860.4 L1183.7,862.9 L1185.3,865.5 L1186.8,868.1 L1188.3,870.7 L1189.8,873.3 L1191.2,875.9 L1192.7,878.5 L1194.1,881.2 L1195.5,883.8 L1196.8,886.5 L1198.2,889.2 L1199.5,891.9 L1200.8,894.6 L1202.1,897.3 L1203.4,900.0 L1204.7,902.7 L1206.0,905.3 L1207.4,908.0 L1208.8,910.6 L1210.2,913.2 L1211.8,915.7 L1213.3,918.2 L1215.0,920.7 L1216.6,923.2 L1218.3,925.6 L1220.0,928.1 L1221.8,930.5 L1223.5,932.9 L1225.3,935.3 L1227.1,937.6 L1229.0,940.0 L1230.9,942.2 L1232.9,944.5 L1234.9,946.7 L1236.9,948.9 L1238.9,951.1 L1241.0,953.3 L1243.0,955.5 L1245.0,957.8 L1247.0,960.0 L1249.0,962.2 L1251.0,964.5 L1252.9,966.8 L1254.7,969.1 L1256.6,971.5 L1258.3,973.9 L1260.1,976.3 L1261.8,978.8 L1263.4,981.3 L1265.1,983.8 L1266.7,986.3 L1268.3,988.8 L1270.0,991.3 L1271.6,993.9 L1273.3,996.4 L1275.0,998.8 L1276.6,1001.3 L1278.4,1003.8 L1280.1,1006.2 L1281.8,1008.7 L1283.6,1011.1 L1285.4,1013.5 L1287.2,1015.8 L1289.1,1018.2 L1291.0,1020.5 L1293.0,1022.7 L1295.0,1024.9 L1297.1,1027.1 L1299.2,1029.2 L1301.3,1031.3 L1303.5,1033.4 L1305.6,1035.5 L1307.8,1037.5 L1310.0,1039.6 L1312.2,1041.6 L1314.5,1043.6 L1316.7,1045.6 L1319.0,1047.5 L1321.3,1049.5 L1323.5,1051.5 L1325.8,1053.4 L1328.1,1055.4 L1330.3,1057.3 L1332.6,1059.3 L1334.9,1061.3 L1337.1,1063.3 L1339.3,1065.3 L1341.6,1067.3 L1343.8,1069.3 L1346.0,1071.3 L1348.2,1073.4 L1350.4,1075.4 L1352.7,1077.4 L1354.9,1079.4 L1357.1,1081.4 L1359.4,1083.4 L1361.7,1085.3 L1364.0,1087.2 L1366.3,1089.1 L1368.7,1090.9 L1371.1,1092.7 L1373.5,1094.6 L1375.9,1096.4 L1378.3,1098.1 L1380.7,1099.9 L1383.1,1101.7 L1385.6,1103.4 L1388.2,1104.9 L1390.9,1106.2 L1393.6,1107.5 L1396.3,1108.7 L1399.0,1110.0 L1401.7,1111.3 L1404.4,1112.5 L1407.2,1113.8 L1409.9,1115.1 L1412.5,1116.5 L1415.1,1118.1 L1417.5,1119.8 L1419.9,1121.6 L1422.3,1123.4 L1424.7,1125.2 L1427.1,1127.0 L1429.5,1128.7 L1432.0,1130.5 L1434.4,1132.2 L1437.0,1133.7 L1439.7,1134.9 L1442.5,1136.0 L1445.3,1137.1 L1448.1,1138.2 L1450.9,1139.4 L1453.7,1140.5 L1456.5,1141.6 L1459.3,1142.7 L1462.1,1143.7 L1464.9,1144.8 L1467.7,1145.8 L1470.5,1146.8 L1473.3,1147.9 L1476.2,1148.9 L1479.0,1149.9 L1481.8,1151.0 L1484.6,1152.0 L1487.4,1153.2 L1490.1,1154.4 L1492.8,1155.7 L1495.5,1157.0 L1498.3,1158.2 L1501.0,1159.4 L1503.9,1160.3 L1506.7,1161.3 L1509.6,1162.2 L1512.4,1163.1 L1515.3,1164.1 L1518.1,1165.0 L1521.0,1165.9 L1523.9,1166.8 L1526.7,1167.7 L1529.6,1168.6 L1532.5,1169.5 L1535.3,1170.4 L1538.2,1171.3 L1541.1,1172.2 L1543.9,1173.0 L1546.8,1173.9 L1549.7,1174.8 L1552.5,1175.7 L1555.4,1176.5 L1558.3,1177.4 L1561.1,1178.3 L1564.0,1179.2 L1566.9,1180.0 L1569.8,1180.9 L1572.7,1181.6 L1575.6,1182.3 L1578.5,1183.0 L1581.4,1183.7 L1584.4,1184.4 L1587.3,1185.1 L1590.2,1185.8 L1593.1,1186.5 L1596.0,1187.1 L1599.0,1187.8 L1601.9,1188.5 L1604.8,1189.2 L1607.7,1189.9 L1610.7,1190.6 L1613.6,1191.2 L1616.5,1191.9 L1619.4,1192.5 L1622.4,1193.1 L1625.3,1193.7 L1628.3,1194.4 L1631.2,1195.0 L1634.1,1195.6 L1637.1,1196.2 L1640.0,1196.9 L1642.9,1197.5 L1645.9,1198.1 L1648.8,1198.8 L1651.7,1199.4 L1654.6,1200.1 L1657.6,1200.8 L1660.5,1201.5 L1663.4,1202.1 L1666.4,1202.6 L1669.4,1203.0 L1672.3,1203.4 L1675.3,1203.7 L1678.3,1204.1 L1681.3,1204.5 L1684.2,1204.8 L1687.2,1205.2 L1690.2,1205.6 L1693.2,1206.0 L1696.2,1206.3 L1699.1,1206.7 L1702.1,1207.1 L1705.1,1207.4 L1708.1,1207.8 L1711.0,1208.2 L1714.0,1208.6 L1717.0,1209.1 L1720.0,1209.5 L1722.9,1210.0 L1725.9,1210.4 L1728.9,1210.9 L1731.8,1211.3 L1734.8,1211.8 L1737.8,1212.2 L1740.7,1212.7 L1743.7,1213.1 L1746.7,1213.6 L1749.6,1214.0 L1752.6,1214.5 L1755.6,1214.9 L1758.5,1215.3 L1761.5,1215.7 L1764.5,1216.1 L1767.5,1216.5 L1770.4,1216.9 L1773.4,1217.2 L1776.4,1217.6 L1779.4,1217.9 L1782.4,1218.2 L1785.4,1218.5 L1788.3,1218.9 L1791.3,1219.2 L1794.3,1219.5 L1797.3,1219.8 L1800.3,1220.1 L1803.3,1220.4 L1806.2,1220.7 L1809.2,1221.1 L1812.2,1221.4 L1815.2,1221.7 L1818.2,1222.0 L1821.2,1222.3 L1824.2,1222.6 L1827.1,1222.9 L1830.1,1223.3 L1833.1,1223.6 L1836.1,1223.9 L1839.1,1224.2 L1842.1,1224.4 L1845.1,1224.6 L1848.1,1224.9 L1851.1,1225.1 L1854.0,1225.4 L1857.0,1225.6 L1860.0,1225.8 L1863.0,1226.1 L1866.0,1226.3 L1869.0,1226.5 L1872.0,1226.5 L1875.0,1226.4 L1878.0,1226.3 L1881.0,1226.1 L1884.0,1226.0 L1887.0,1226.0 L1890.0,1226.0 L1892.0,1226.0" stroke="#a5a5a5"/>
</g>
<text class="ax" transform="translate(227.6,126.3) scale(0.972,1)" text-anchor="middle">1.2</text>
<text class="ax" transform="translate(227.6,327.3) scale(0.972,1)" text-anchor="middle">1.0</text>
<text class="ax" transform="translate(227.6,528.3) scale(0.972,1)" text-anchor="middle">0.8</text>
<text class="ax" transform="translate(227.6,729.5) scale(0.972,1)" text-anchor="middle">0.6</text>
<text class="ax" transform="translate(227.6,931.2) scale(0.972,1)" text-anchor="middle">0.4</text>
<text class="ax" transform="translate(227.6,1131.8) scale(0.972,1)" text-anchor="middle">0.2</text>
<text class="ax" transform="translate(227.6,1332.7) scale(0.972,1)" text-anchor="middle">0.0</text>
<text class="ax" transform="translate(345.5,1430.4) scale(0.972,1)" text-anchor="middle">200</text>
<text class="ax" transform="translate(651.5,1430.4) scale(0.972,1)" text-anchor="middle">250</text>
<text class="ax" transform="translate(958.2,1430.4) scale(0.972,1)" text-anchor="middle">300</text>
<text class="ax" transform="translate(1264,1430.4) scale(0.972,1)" text-anchor="middle">350</text>
<text class="ax" transform="translate(1570.6,1430.4) scale(0.972,1)" text-anchor="middle">400</text>
<text class="ax" transform="translate(1877,1430.4) scale(0.972,1)" text-anchor="middle">450</text>
<text class="tt" transform="translate(1122.5,1545) scale(1.02,1)" text-anchor="middle">λ, nm</text>
<text class="tt" transform="translate(122.5,686.5) rotate(-90) scale(0.996,1)" text-anchor="middle">Absorbance</text>
<text class="dl" transform="translate(1357.3,1042) scale(0.95,1)" text-anchor="middle">3</text>
<text class="dl" transform="translate(1357.3,1151) scale(0.95,1)" text-anchor="middle">2</text>
<text class="dl" transform="translate(1357.3,1293) scale(0.95,1)" text-anchor="middle">1</text>
</svg></body></html>
